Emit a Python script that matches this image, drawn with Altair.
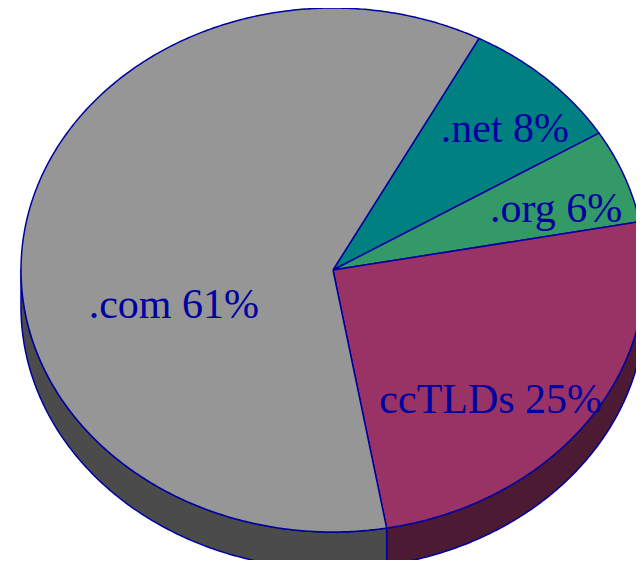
import altair as alt
import numpy as np
import pandas as pd

# ---- data ----
categories = [".net", ".org", "ccTLDs", ".com"]
shares = [8.5, 5.8, 25.2, 60.5]
labels = [".net 8%", ".org 6%", "ccTLDs 25%", ".com 61%"]

# ---- styling / layout ----
top_colors = ["#008080", "#339966", "#993366", "#969696"]
side_colors = ["#004040", "#1a4c33", "#4c1a33", "#4b4b4b"]
edge = "#0000a0"
W, H = 628, 552
CX, CY = 325, 262          # centre of the top ellipse
RX, RY = 312, 262          # radii of the top ellipse
DEPTH = 37                 # thickness of the pie
START = 27.9               # angle (deg, clockwise from 12 o'clock) where .net begins
label_angle = [48.4, 75.6, 137.2, 250.3]
label_radius = [0.737, 0.738, 0.744, 0.542]


def pt(theta, r=1.0, dz=0.0):
    t = np.radians(theta)
    return CX + r * RX * np.sin(t), CY - r * RY * np.cos(t) + dz


rows = []
bounds = START + 360.0 * np.concatenate([[0], np.cumsum(shares)]) / sum(shares)
for i, cat in enumerate(categories):
    a1, a2 = bounds[i], bounds[i + 1]
    # top face
    arc = np.linspace(a1, a2, max(int((a2 - a1) * 2), 2))
    pts = [(CX, CY)] + [pt(a) for a in arc] + [(CX, CY)]
    for k, (x, y) in enumerate(pts):
        rows.append(dict(poly=f"top{i}", layer="top", key=cat + " top", x=x, y=y, k=k))
    # side wall (visible front half: 90..270 deg)
    for off in (0, 360):
        lo, hi = max(a1, 90 + off), min(a2, 270 + off)
        if hi > lo:
            arc = np.linspace(lo, hi, max(int((hi - lo) * 2), 2))
            pts = [pt(a) for a in arc] + [pt(a, dz=DEPTH) for a in arc[::-1]]
            pts.append(pts[0])
            for k, (x, y) in enumerate(pts):
                rows.append(dict(poly=f"side{i}_{off}", layer="side", key=cat + " side", x=x, y=y, k=k))

df = pd.DataFrame(rows)

lab = []
for i, t in enumerate(labels):
    x, y = pt(label_angle[i], label_radius[i])
    lab.append(dict(x=x, y=y, text=t))
lab_df = pd.DataFrame(lab)

xs = alt.Scale(domain=[0, W], nice=False, zero=False)
ys = alt.Scale(domain=[0, H], nice=False, zero=False, reverse=True)
color_scale = alt.Scale(
    domain=[c + " top" for c in categories] + [c + " side" for c in categories],
    range=top_colors + side_colors,
)


def polys(layer):
    return alt.Chart(df[df.layer == layer]).mark_line(
        filled=True, stroke=edge, strokeWidth=1.5, strokeJoin="round"
    ).encode(
        x=alt.X("x:Q", scale=xs, axis=None),
        y=alt.Y("y:Q", scale=ys, axis=None),
        color=alt.Color("key:N", scale=color_scale, legend=None),
        detail="poly:N",
        order="k:Q",
    )


text = alt.Chart(lab_df).mark_text(
    font="Liberation Serif", fontSize=42, color=edge, align="center", baseline="alphabetic"
).encode(
    x=alt.X("x:Q", scale=xs, axis=None),
    y=alt.Y("y:Q", scale=ys, axis=None),
    text="text:N",
)

chart = alt.layer(polys("side"), polys("top"), text).properties(
    width=W, height=H, padding=0, autosize="none"
).configure_view(stroke=None)

chart.save("out.html", embed_options={"renderer": "svg", "actions": False})
